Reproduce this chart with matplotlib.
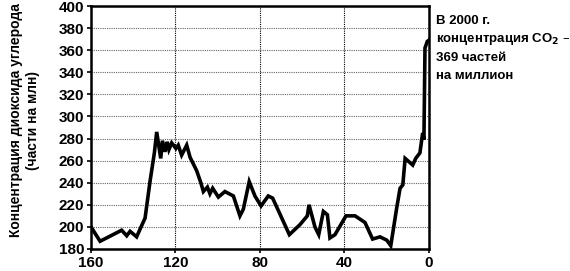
import matplotlib
matplotlib.use("Agg")
import matplotlib.pyplot as plt
from matplotlib.ticker import MultipleLocator

# thousands of years before present, CO2 ppm
years_ago = [160, 155.7, 145.5, 143.1, 141.5, 138.4, 136.3, 134.4, 132, 130,
             128.9, 127, 126.2, 125, 123.9, 123.1, 121.8, 119.8, 118.7, 117.1,
             114.7, 113.1, 110, 108, 106.8, 104.9, 103.7, 102.4, 99.7, 96.6,
             92.6, 89.5, 87.9, 85.1, 82.4, 79.5, 76.1, 74, 66.1, 61.1,
             57.6, 56.8, 54, 52.2, 50, 48.1, 46.9, 44.5, 39.3, 35,
             30.3, 26.7, 23.2, 20, 18.1, 15.3, 13.7, 12.4, 11.3, 7.7,
             6.3, 4.3, 3, 2.4, 1.9, 0.8, 0]
co2_ppm = [200, 187, 197, 192, 196, 191, 200, 208, 242, 267,
           286, 262, 278, 268, 277, 270, 276, 271, 274, 265,
           274, 263, 251, 240, 232, 236, 230, 235, 227, 232,
           228, 210, 216, 241, 228, 219, 228, 226, 193, 202,
           210, 220, 200, 193, 214, 211, 190, 193, 210, 210,
           204, 189, 191, 188, 183, 217, 235, 238, 262, 256,
           262, 267, 285, 279, 362, 368, 369]

note_lines = ['В 2000 г.', 'концентрация CO$_2$ –', '369 частей', 'на миллион']
y_label = 'Концентрация диоксида углерода\n(части на млн)'

plt.rcParams['font.family'] = ['Liberation Sans', 'DejaVu Sans']
plt.rcParams['font.weight'] = 'bold'
plt.rcParams['mathtext.default'] = 'bf'

fig = plt.figure(figsize=(5.7, 2.71), dpi=100)
ax = fig.add_axes([91/570, 1 - 249/271, 338/570, 243/271])

ax.plot(years_ago, co2_ppm, color='black', lw=2.6, solid_joinstyle='miter')

ax.set_xlim(160, 0)
ax.set_ylim(180, 400)
ax.xaxis.set_major_locator(MultipleLocator(40))
ax.yaxis.set_major_locator(MultipleLocator(20))

ax.grid(True, axis='y', color='#666666', linestyle=(0, (1, 1)), lw=0.8)
ax.grid(True, axis='x', color='black', linestyle=(0, (1, 1)), lw=0.8)

for s in ax.spines.values():
    s.set_linewidth(1.8)
ax.tick_params(direction='out', length=3, width=1.2, labelsize=11, pad=2)
for lbl in ax.get_xticklabels() + ax.get_yticklabels():
    lbl.set_fontweight('bold')

ax.set_ylabel(y_label, fontsize=10, fontweight='bold', linespacing=1.3)
ax.yaxis.set_label_coords(-0.15, 0.53)

for i, line in enumerate(note_lines):
    fig.text(436/570, 1 - (21 + i * 18.3)/271, line, fontsize=9.5,
             fontweight='bold', va='center', ha='left')

fig.savefig('out.png', dpi=100)
